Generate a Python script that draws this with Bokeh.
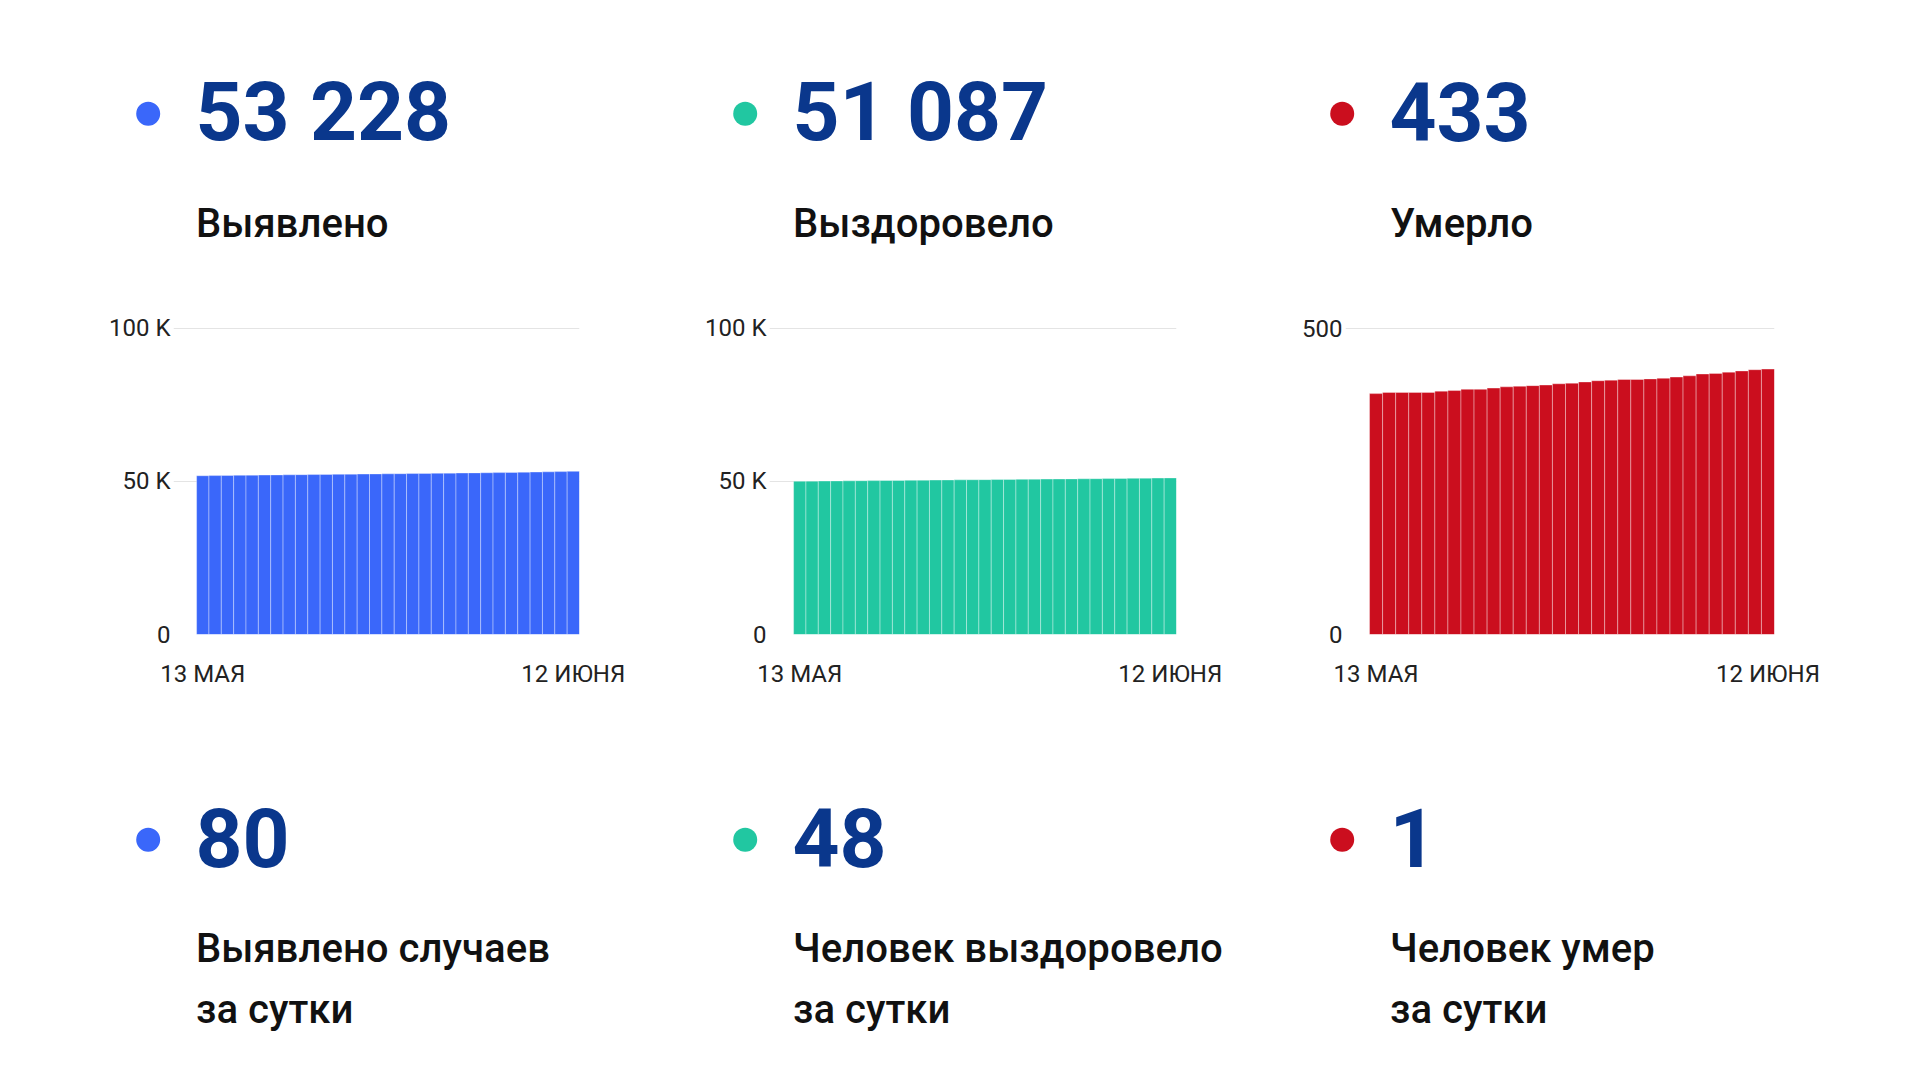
from bokeh.plotting import figure
from bokeh.layouts import column, row, Spacer
from bokeh.models import Range1d, FixedTicker
from bokeh.core.properties import value
from bokeh.embed import file_html
from bokeh.resources import INLINE

# ---------------- data ----------------
days = ["13.05", "14.05", "15.05", "16.05", "17.05", "18.05", "19.05", "20.05",
        "21.05", "22.05", "23.05", "24.05", "25.05", "26.05", "27.05", "28.05",
        "29.05", "30.05", "31.05", "01.06", "02.06", "03.06", "04.06", "05.06",
        "06.06", "07.06", "08.06", "09.06", "10.06", "11.06", "12.06"]

detected = [51800, 51852, 51897, 51941, 51986, 52029, 52068, 52110, 52151, 52190,
            52232, 52271, 52309, 52351, 52392, 52430, 52468, 52511, 52556, 52600,
            52643, 52689, 52734, 52778, 52821, 52879, 52948, 53012, 53079, 53148,
            53228]

recovered = [50002, 50041, 50073, 50112, 50148, 50181, 50214, 50253, 50287, 50318,
             50356, 50391, 50423, 50461, 50497, 50529, 50566, 50602, 50633, 50668,
             50707, 50741, 50773, 50809, 50846, 50881, 50921, 50958, 51002, 51039,
             51087]

deaths = [393, 395, 395, 395, 395, 397, 398, 400, 400, 402, 404, 405, 406, 407,
          409, 410, 412, 414, 415, 416, 416, 417, 418, 420, 422, 425, 426, 428,
          430, 432, 433]

totals = ["53 228", "51 087", "433"]
total_labels = ["Выявлено", "Выздоровело", "Умерло"]
daily = ["80", "48", "1"]
daily_labels_1 = ["Выявлено случаев", "Человек выздоровело", "Человек умер"]
daily_labels_2 = ["за сутки", "за сутки", "за сутки"]

y_ticks = [[0, 50000, 100000], [0, 50000, 100000], [0, 500]]
y_tick_labels = [["0", "50 K", "100 K"], ["0", "50 K", "100 K"], ["0", "500"]]
x_tick_labels = ["13 МАЯ", "12 ИЮНЯ"]

# ---------------- style ----------------
colors = ["#3a67fa", "#21c7a1", "#cb0e1e"]
NAVY = "#0a378c"
TXT = "#111111"
NUM_FONT = "Roboto"
LBL_FONT = "Roboto Medium, Roboto"
TICK_FONT = "Roboto"
NUM_SIZE = 82
LBL_SIZE = 40
COLW = 597
LEFT_PAD = 48
TOTAL_W = LEFT_PAD + 3 * COLW


def text_panel(height):
    p = figure(width=TOTAL_W, height=height, x_range=Range1d(0, TOTAL_W),
               y_range=Range1d(height, 0), x_axis_type=None, y_axis_type=None,
               output_backend="svg", toolbar_location=None, min_border=0)
    p.grid.visible = False
    p.outline_line_color = None
    p.background_fill_color = "white"
    p.border_fill_color = "white"
    return p


cols_dot = [147.7 + COLW * i for i in range(3)]
cols_txt = [195 + COLW * i for i in range(3)]
cols_lbl = [195.5 + COLW * i for i in range(3)]


def num_text(p, y, texts):
    p.text(x=cols_txt, y=[y] * 3, text=texts, text_font=value(NUM_FONT),
           text_font_size=f"{NUM_SIZE}px", text_font_style="bold", text_color=NAVY,
           text_baseline="alphabetic", text_align="left")


def lbl_text(p, y, texts):
    p.text(x=cols_lbl, y=[y] * 3, text=texts, text_font=value(LBL_FONT),
           text_font_size=f"{LBL_SIZE}px", text_color=TXT, text_baseline="alphabetic",
           text_align="left")


# header
hdr = text_panel(258)
hdr.scatter(x=cols_dot, y=[113.3] * 3, size=24, fill_color=colors, line_color=None)
num_text(hdr, 111.4, totals)
lbl_text(hdr, 222.5, total_labels)

# footer
ftr = text_panel(364)
ftr.scatter(x=cols_dot, y=[131.3] * 3, size=24, fill_color=colors, line_color=None)
num_text(ftr, 129.4, daily)
lbl_text(ftr, 240.2, daily_labels_1)
lbl_text(ftr, 300.9, daily_labels_2)


def chart(vals, color, ticks, tick_labels, frame_w, left, right, x_start):
    n = len(vals)
    p = figure(width=left + frame_w + right, height=450,
               x_range=Range1d(x_start, n - 0.5),
               y_range=Range1d(0, ticks[-1] * 1.005),
               output_backend="svg", toolbar_location=None,
               min_border_left=left, min_border_right=right,
               min_border_top=68, min_border_bottom=74)
    p.outline_line_color = None
    idx = list(range(n))
    p.vbar(x=idx, top=vals, bottom=0, width=1, fill_color=color,
           line_color="white", line_alpha=0.35, line_width=1)
    p.xgrid.visible = False
    p.ygrid.ticker = FixedTicker(ticks=ticks)
    p.ygrid.grid_line_color = "#e4e4e4"
    p.ygrid.grid_line_width = 1
    p.yaxis.ticker = FixedTicker(ticks=ticks)
    p.yaxis.major_label_overrides = {t: l for t, l in zip(ticks, tick_labels)}
    p.xaxis.ticker = FixedTicker(ticks=[0, n - 1])
    p.xaxis.major_label_overrides = {0: x_tick_labels[0], n - 1: x_tick_labels[1]}
    for ax in (p.xaxis, p.yaxis):
        ax.axis_line_color = None
        ax.major_tick_line_color = None
        ax.minor_tick_line_color = None
        ax.major_tick_out = 0
        ax.major_tick_in = 0
        ax.minor_tick_out = 0
        ax.minor_tick_in = 0
        ax.major_label_text_font = TICK_FONT
        ax.major_label_text_font_size = "24px"
        ax.major_label_text_color = "#222222"
    p.yaxis.major_label_standoff = 3
    p.xaxis.major_label_standoff = 25
    return p


c1 = chart(detected, colors[0], y_ticks[0], y_tick_labels[0], 406, 125, 66, -2.37)
c2 = chart(recovered, colors[1], y_ticks[1], y_tick_labels[1], 407, 124, 66, -2.45)
c3 = chart(deaths, colors[2], y_ticks[2], y_tick_labels[2], 429, 103, 65, -2.34)

charts = row(Spacer(width=LEFT_PAD, height=450), c1, c2, c3, spacing=0)
layout = column(hdr, charts, ftr, spacing=0)

open("out.html", "w").write(file_html(layout, INLINE))
